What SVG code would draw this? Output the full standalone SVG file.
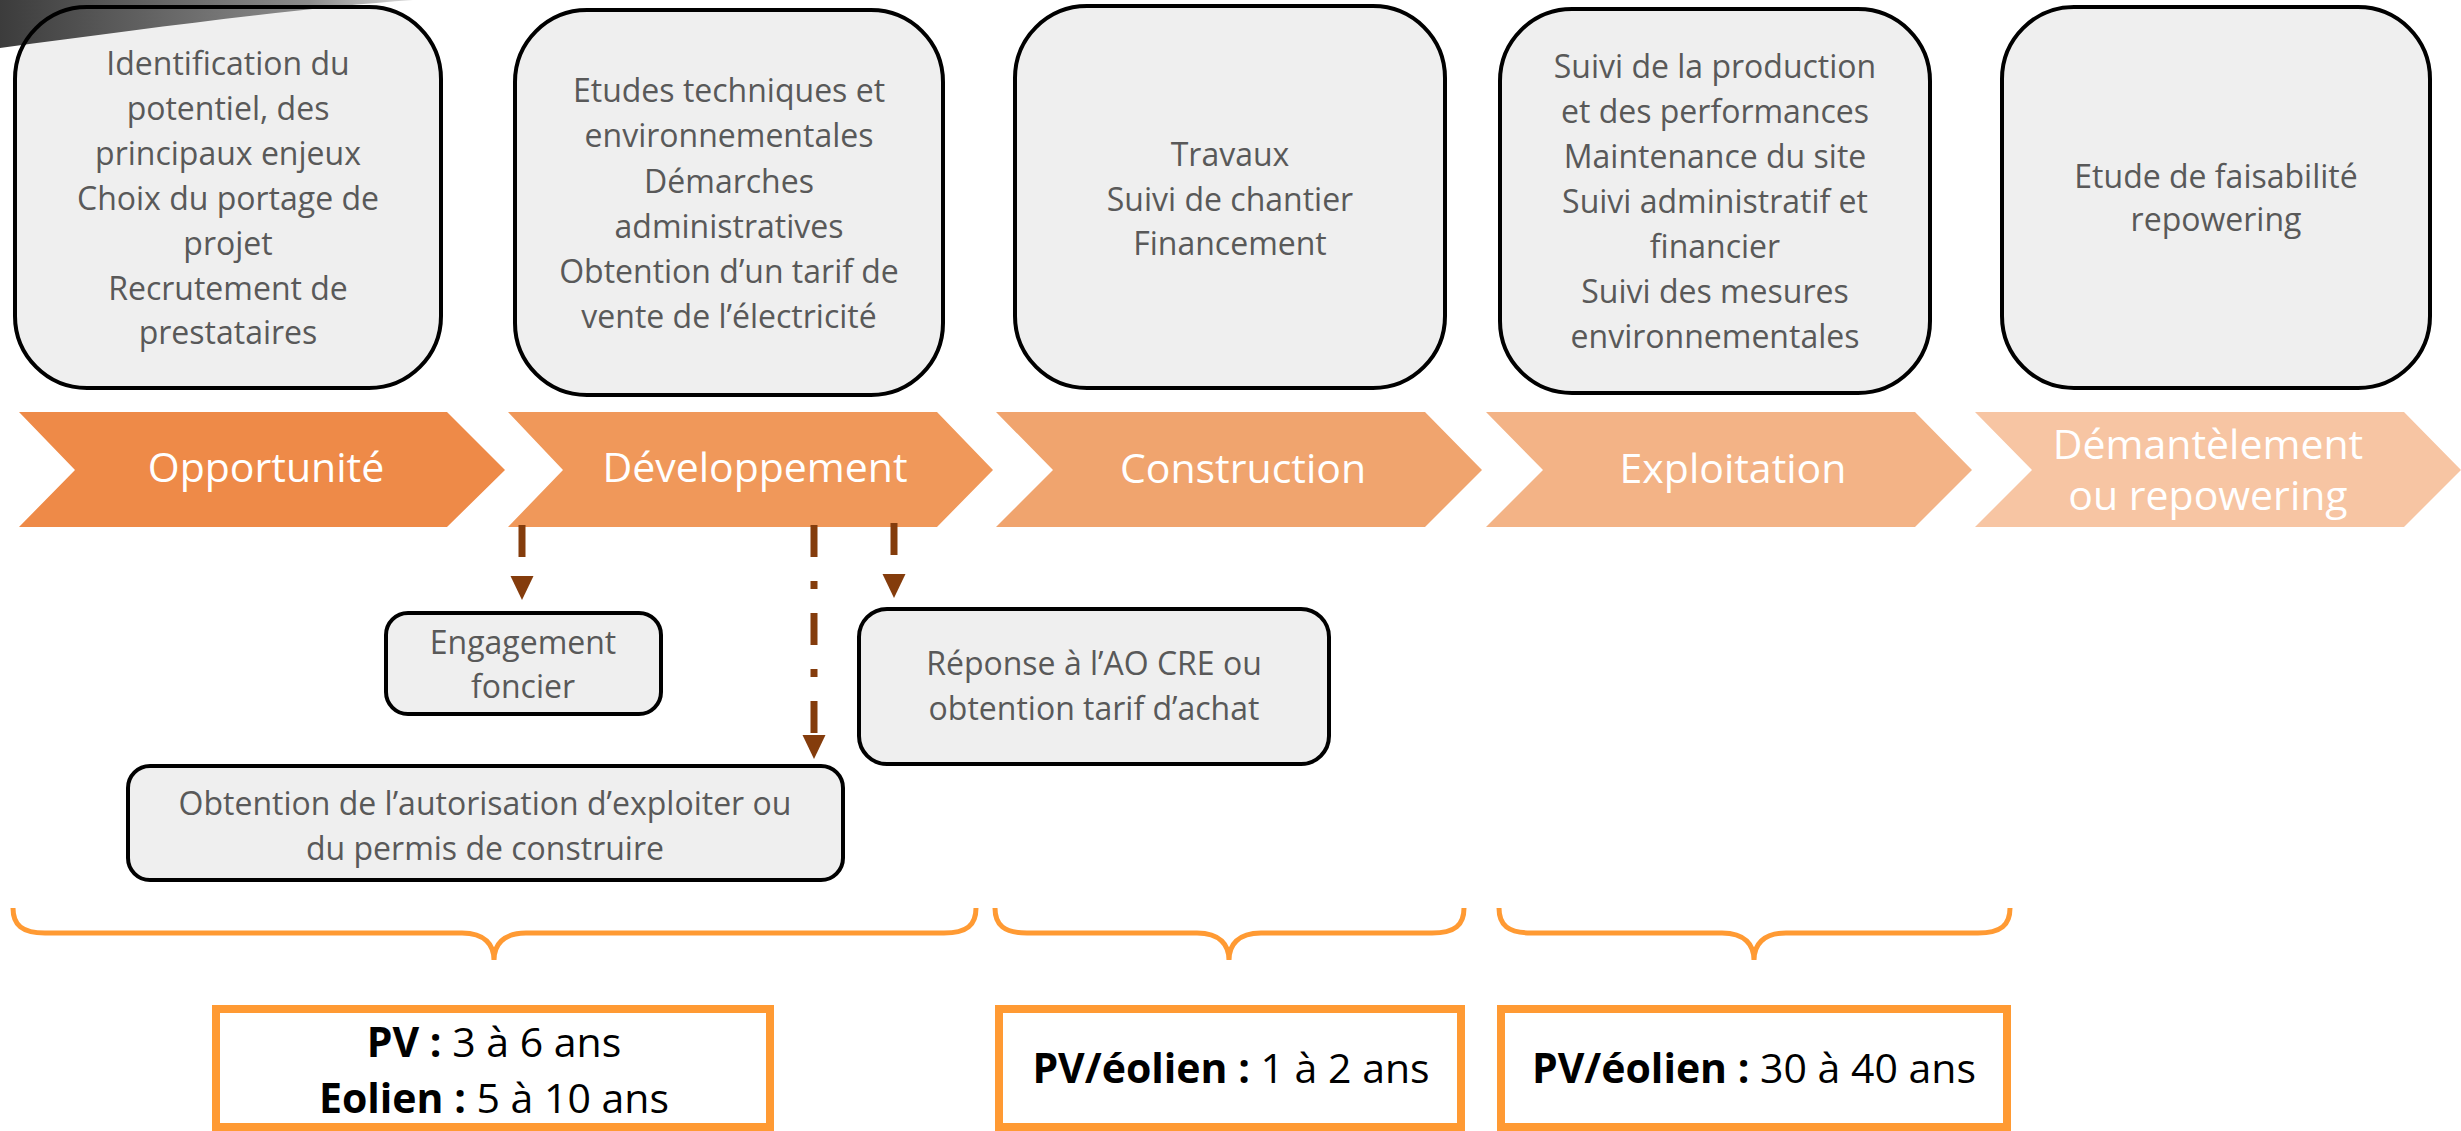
<svg xmlns="http://www.w3.org/2000/svg" width="2461" height="1131" viewBox="0 0 2461 1131">
<style>
text{font-family:"Open Sans","Liberation Sans",sans-serif;text-anchor:middle}
.box{fill:#EFEFEF;stroke:#000;stroke-width:4}
.bt{font-size:32px;fill:#595959}
.ct{font-size:41px;fill:#FFFFFF}
.dt{font-size:41px;fill:#000}
.b{font-weight:bold}
.brace{fill:none;stroke:#FF9A33;stroke-width:5}
.dur{fill:#FFFFFF;stroke:#FF9A33;stroke-width:8}
.conn{fill:none;stroke:#843C0C;stroke-width:7}
</style>
<defs>
<linearGradient id="wedge" x1="0" y1="0" x2="413" y2="0" gradientUnits="userSpaceOnUse">
<stop offset="0" stop-color="#3C3C3C"/>
<stop offset="0.75" stop-color="#8C8C8C"/>
<stop offset="1" stop-color="#D8D8D8"/>
</linearGradient>
<marker id="ah" markerUnits="userSpaceOnUse" markerWidth="24" markerHeight="24" viewBox="0 -12 24 24" refX="0" refY="0" orient="auto">
<path d="M0,-11.5 L24,0 L0,11.5 z" fill="#843C0C"/>
</marker>
</defs>
<rect width="2461" height="1131" fill="#FFFFFF"/>

<g id="box-opportunite">
<rect x="15" y="7" width="426" height="381" rx="72" fill="#EFEFEF"/>
<path d="M0,0 L413,0 C300,8 150,28 0,48 z" fill="url(#wedge)"/>
<rect x="15" y="7" width="426" height="381" rx="72" fill="none" stroke="#000" stroke-width="4"/>
<text class="bt"><tspan x="228" y="75">Identification du</tspan><tspan x="228" y="120">potentiel, des</tspan><tspan x="228" y="165">principaux enjeux</tspan><tspan x="228" y="210">Choix du portage de</tspan><tspan x="228" y="255">projet</tspan><tspan x="228" y="300">Recrutement de</tspan><tspan x="228" y="344">prestataires</tspan></text>
</g>

<g id="box-developpement">
<rect class="box" x="515" y="10" width="428" height="385" rx="72"/>
<text class="bt"><tspan x="729" y="102">Etudes techniques et</tspan><tspan x="729" y="147">environnementales</tspan><tspan x="729" y="193">Démarches</tspan><tspan x="729" y="238">administratives</tspan><tspan x="729" y="283">Obtention d’un tarif de</tspan><tspan x="729" y="328">vente de l’électricité</tspan></text>
</g>

<g id="box-construction">
<rect class="box" x="1015" y="6" width="430" height="382" rx="72"/>
<text class="bt"><tspan x="1230" y="166">Travaux</tspan><tspan x="1230" y="211">Suivi de chantier</tspan><tspan x="1230" y="255">Financement</tspan></text>
</g>

<g id="box-exploitation">
<rect class="box" x="1500" y="9" width="430" height="384" rx="72"/>
<text class="bt"><tspan x="1715" y="78">Suivi de la production</tspan><tspan x="1715" y="123">et des performances</tspan><tspan x="1715" y="168">Maintenance du site</tspan><tspan x="1715" y="213">Suivi administratif et</tspan><tspan x="1715" y="258">financier</tspan><tspan x="1715" y="303">Suivi des mesures</tspan><tspan x="1715" y="348">environnementales</tspan></text>
</g>

<g id="box-demantelement">
<rect class="box" x="2002" y="7" width="428" height="381" rx="72"/>
<text class="bt"><tspan x="2216" y="188">Etude de faisabilité</tspan><tspan x="2216" y="231">repowering</tspan></text>
</g>

<g id="chev-opportunite">
<polygon points="19,412 447,412 505,470 447,527 19,527 75,470" fill="#EE8A48"/>
<text class="ct" x="266" y="482">Opportunité</text>
</g>
<g id="chev-developpement">
<polygon points="508,412 937,412 993,470 937,527 508,527 563,470" fill="#F0985A"/>
<text class="ct" x="755" y="482">Développement</text>
</g>
<g id="chev-construction">
<polygon points="996,412 1425,412 1482,470 1425,527 996,527 1053,470" fill="#F0A46E"/>
<text class="ct" x="1243" y="483">Construction</text>
</g>
<g id="chev-exploitation">
<polygon points="1486,412 1915,412 1972,470 1915,527 1486,527 1543,470" fill="#F3B386"/>
<text class="ct" x="1733" y="483">Exploitation</text>
</g>
<g id="chev-demantelement">
<polygon points="1975,412 2404,412 2461,470 2404,527 1975,527 2032,470" fill="#F7C5A3"/>
<text class="ct"><tspan x="2208" y="459">Démantèlement</tspan><tspan x="2208" y="510">ou repowering</tspan></text>
</g>

<g id="box-engagement">
<rect class="box" x="386" y="613" width="275" height="101" rx="22"/>
<text class="bt"><tspan x="523" y="654">Engagement</tspan><tspan x="523" y="698">foncier</tspan></text>
</g>
<g id="box-autorisation">
<rect class="box" x="128" y="766" width="715" height="114" rx="22"/>
<text class="bt"><tspan x="485" y="815">Obtention de l’autorisation d’exploiter ou</tspan><tspan x="485" y="860">du permis de construire</tspan></text>
</g>
<g id="box-reponse">
<rect class="box" x="859" y="609" width="470" height="155" rx="28"/>
<text class="bt"><tspan x="1094" y="675">Réponse à l’AO CRE ou</tspan><tspan x="1094" y="720">obtention tarif d’achat</tspan></text>
</g>

<g id="connectors">
<path class="conn" d="M522,525 L522,576" stroke-dasharray="32 19" marker-end="url(#ah)"/>
<path class="conn" d="M814,525 L814,735" stroke-dasharray="32 24 8 24" marker-end="url(#ah)"/>
<path class="conn" d="M894,523 L894,574" stroke-dasharray="32 19" marker-end="url(#ah)"/>
</g>

<g id="brace-1">
<path class="brace" d="M13,908 C13,925 22,933 45,933 L462,933 C485,933 494,945 494,960 C494,945 503,933 526,933 L944,933 C967,933 976,925 976,908"/>
</g>
<g id="brace-2">
<path class="brace" d="M995,908 C995,925 1004,933 1027,933 L1197,933 C1220,933 1229,945 1229,960 C1229,945 1238,933 1261,933 L1432,933 C1455,933 1464,925 1464,908"/>
</g>
<g id="brace-3">
<path class="brace" d="M1499,908 C1499,925 1508,933 1531,933 L1722,933 C1745,933 1754,945 1754,960 C1754,945 1763,933 1786,933 L1978,933 C2001,933 2010,925 2010,908"/>
</g>

<g id="dur-developpement">
<rect class="dur" x="216" y="1009" width="554" height="118"/>
<text class="dt"><tspan x="494" y="1057"><tspan class="b">PV :</tspan> 3 à 6 ans</tspan><tspan x="494" y="1113"><tspan class="b">Eolien :</tspan> 5 à 10 ans</tspan></text>
</g>
<g id="dur-construction">
<rect class="dur" x="999" y="1009" width="462" height="118"/>
<text class="dt" x="1231" y="1083"><tspan class="b">PV/éolien :</tspan> 1 à 2 ans</text>
</g>
<g id="dur-exploitation">
<rect class="dur" x="1501" y="1009" width="506" height="118"/>
<text class="dt" x="1754" y="1083"><tspan class="b">PV/éolien :</tspan> 30 à 40 ans</text>
</g>
</svg>
